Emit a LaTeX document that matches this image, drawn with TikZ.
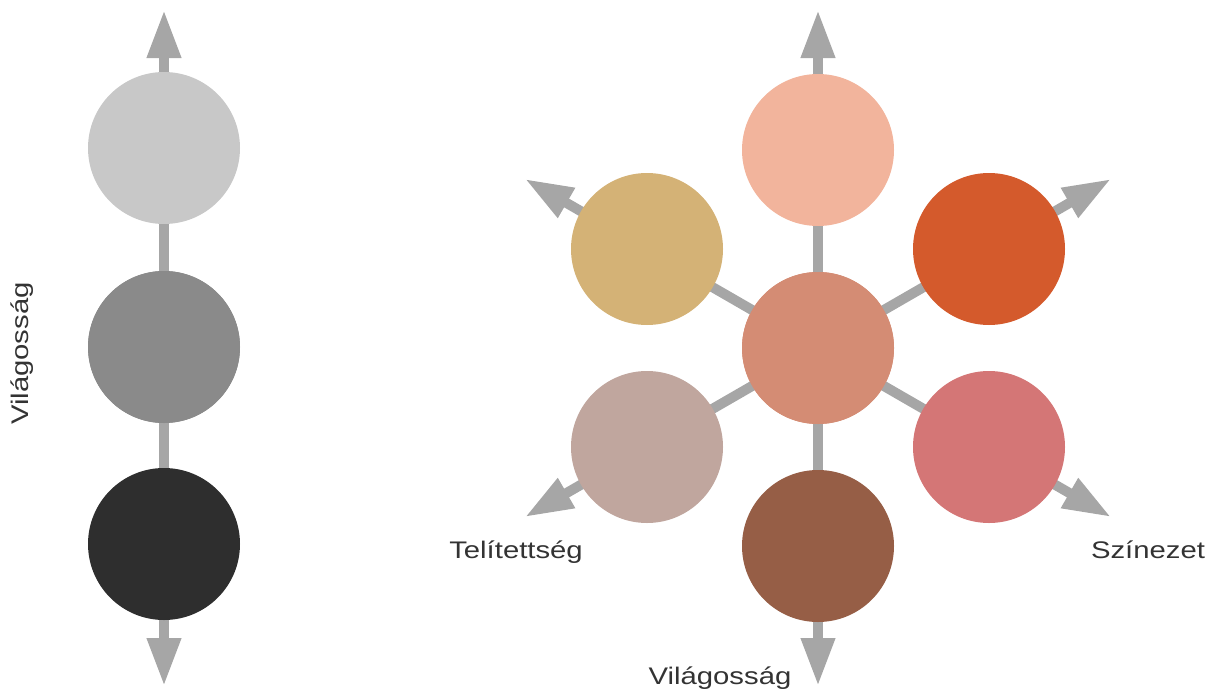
\documentclass[tikz,border=0pt]{standalone}
\usepackage{fontspec}
\setmainfont{Liberation Sans}
\usetikzlibrary{arrows.meta}
\definecolor{axisgray}{HTML}{A6A6A6}
\definecolor{txtgray}{HTML}{333333}
\definecolor{g1}{HTML}{C8C8C8}
\definecolor{g2}{HTML}{8A8A8A}
\definecolor{g3}{HTML}{2E2E2E}
\definecolor{cTop}{HTML}{F2B49C}
\definecolor{cUL}{HTML}{D4B276}
\definecolor{cUR}{HTML}{D45A2C}
\definecolor{cMid}{HTML}{D48C74}
\definecolor{cLL}{HTML}{C0A69E}
\definecolor{cLR}{HTML}{D47676}
\definecolor{cBot}{HTML}{965E46}
\tikzset{
  dot/.style={circle, minimum size=152pt, inner sep=0pt, draw=none},
  axis/.style={draw=axisgray, line width=10pt},
  axisarrow/.style={axis, -{Triangle[width=32pt,length=48pt]}},
  lbl/.style={text=txtgray, font=\fontsize{24}{28}\selectfont, inner sep=0pt, anchor=base}
}
\newcommand{\wide}[1]{\scalebox{1.22}[1]{#1}}
\begin{document}
\begin{tikzpicture}[x=1pt,y=-1pt]
\useasboundingbox (0,0) rectangle (1213,691);
% left column
\node[dot, fill=g2] (l2) at (164,347) {};
\coordinate (lt) at (164,10);
\coordinate (lb) at (164,686);
\begin{scope}[on background layer/.try]
\end{scope}
\draw[axisarrow] (l2.center) -- (lt);
\draw[axisarrow] (l2.center) -- (lb);
\node[dot, fill=g1] (l1) at (164,148) {};
\node[dot, fill=g2] at (l2) {};
\node[dot, fill=g3] (l3) at (164,544) {};
\node[lbl, rotate=90] (vl) at (28,353.5) {\wide{Világosság}};
% right hexagon
\coordinate (C) at (818,348);
\coordinate (tT) at (818,10);
\coordinate (tB) at (818,686);
\coordinate (tUL) at (525,179);
\coordinate (tUR) at (1111,179);
\coordinate (tLL) at (525,517);
\coordinate (tLR) at (1111,517);
\node[dot, fill=cMid] (m) at (C) {};
\foreach \t in {tT,tB,tUL,tUR,tLL,tLR}
  \draw[axisarrow] (m.center) -- (\t);
\node[dot, fill=cMid] at (m) {};
\node[dot, fill=cTop] (top) at (818,150) {};
\node[dot, fill=cBot] (bot) at (818,546) {};
\node[dot, fill=cUL] (ul) at (647,249) {};
\node[dot, fill=cUR] (ur) at (989,249) {};
\node[dot, fill=cLL] (ll) at (647,447) {};
\node[dot, fill=cLR] (lr) at (989,447) {};
\node[lbl] (sat) at (516,558) {\wide{Telítettség}};
\node[lbl] (hue) at (1148,558) {\wide{Színezet}};
\node[lbl] (lig) at (720,684) {\wide{Világosság}};
\end{tikzpicture}
\end{document}
